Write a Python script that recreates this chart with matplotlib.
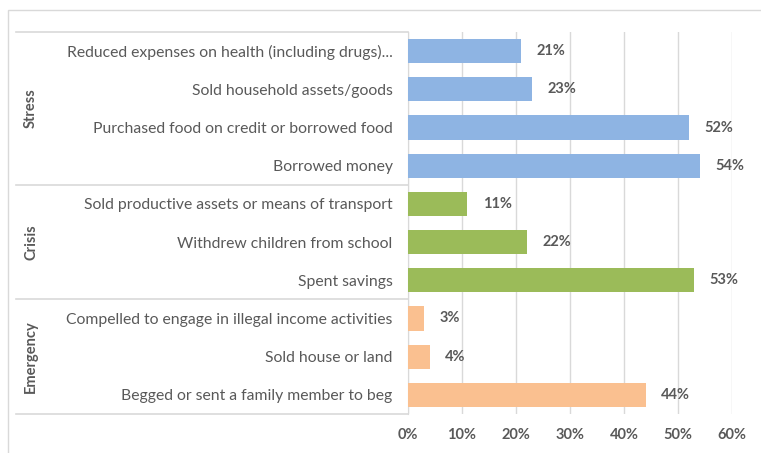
import matplotlib
matplotlib.use('Agg')
import matplotlib.pyplot as plt
from matplotlib.patches import Rectangle
from matplotlib.transforms import blended_transform_factory

plt.rcParams['font.family'] = ['Lato', 'DejaVu Sans']

# data, top to bottom
labels = [
    "Reduced expenses on health (including drugs)...",
    "Sold household assets/goods",
    "Purchased food on credit or borrowed food",
    "Borrowed money",
    "Sold productive assets or means of transport",
    "Withdrew children from school",
    "Spent savings",
    "Compelled to engage in illegal income activities",
    "Sold house or land",
    "Begged or sent a family member to beg",
]
values = [0.21, 0.23, 0.52, 0.54, 0.11, 0.22, 0.53, 0.03, 0.04, 0.44]
groups = ["Stress", "Crisis", "Emergency"]
group_sizes = [4, 3, 3]
group_colors = ["#8EB4E3", "#9BBB59", "#FAC090"]
xticks = [0, 0.1, 0.2, 0.3, 0.4, 0.5, 0.6]

W, H = 761, 453
fig = plt.figure(figsize=(W / 100, H / 100), dpi=100)
ax = fig.add_axes([408 / W, 1 - 414 / H, (732 - 408) / W, (414 - 32) / H])

colors = []
for c, n in zip(group_colors, group_sizes):
    colors += [c] * n

ypos = list(range(len(values)))
ax.barh(ypos, values, height=0.63, color=colors, zorder=3)
txtc = "#595959"
for y, v in zip(ypos, values):
    ax.annotate(f"{v:.0%}", (v, y), xytext=(11, 0), textcoords='offset points',
                va='center', ha='left', fontsize=10.5, fontweight='bold', color=txtc)

ax.set_xlim(0, 0.6)
ax.set_ylim(len(values) - 0.5, -0.5)
ax.set_xticks(xticks)
ax.set_xticklabels([f"{t:.0%}" for t in xticks], fontweight='bold')
ax.set_yticks(ypos)
ax.set_yticklabels(labels)
ax.tick_params(length=0, colors=txtc)
ax.tick_params(axis='y', pad=11, labelsize=11.3)
ax.tick_params(axis='x', pad=10, labelsize=10.5)
ax.grid(axis='x', color='#D9D9D9', linewidth=1, zorder=0)
for s in ['top', 'right', 'bottom']:
    ax.spines[s].set_visible(False)
ax.spines['left'].set_color('#D9D9D9')

# category box lines
trans = blended_transform_factory(ax.transAxes, ax.transData)
x0 = (16 - 408) / (732 - 408)
bounds = [-0.5]
for n in group_sizes:
    bounds.append(bounds[-1] + n)
for b in bounds:
    ax.plot([x0, 0], [b, b], color='#D9D9D9', lw=1.2, transform=trans, clip_on=False)
xg = (31 - 408) / (732 - 408)
for g, lo, hi in zip(groups, bounds[:-1], bounds[1:]):
    ax.text(xg, (lo + hi) / 2, g, rotation=90, ha='center', va='center',
            fontsize=10.5, fontweight='bold', color=txtc, transform=trans)

# outer chart border
fig.patches.append(Rectangle((8 / W, -0.05), 1.1, 1 - 10 / H + 0.05, transform=fig.transFigure,
                             fill=False, edgecolor='#D9D9D9', linewidth=1))

fig.savefig("out.png", dpi=100)
